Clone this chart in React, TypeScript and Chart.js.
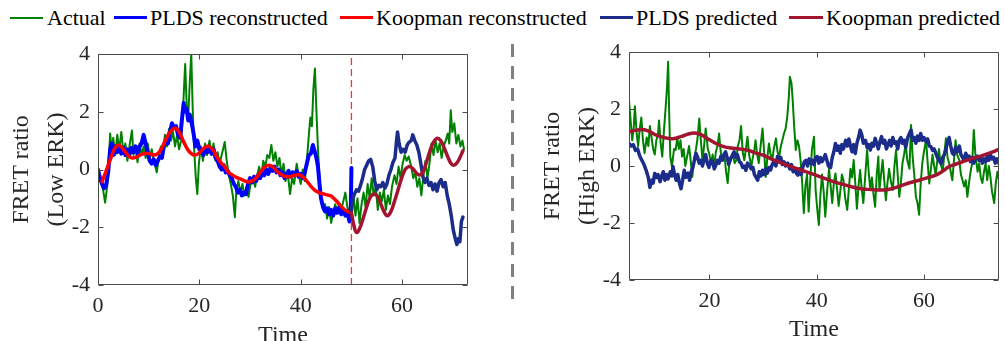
import React, { useEffect, useRef } from "react";
import { Chart, registerables } from "chart.js";

Chart.register(...registerables);

const FONT = "'Liberation Serif', 'Times New Roman', Times, serif";
const TEXT = "#262626";

const C_ACTUAL = "#008000";
const C_PLDS_REC = "#0000ff";
const C_KOOP_REC = "#ff0000";
const C_PLDS_PRED = "#1b2c8a";
const C_KOOP_PRED = "#a2142f";
const C_SPLIT = "#ff3030";

// ---------- Left panel (Low ERK) ----------
const lowActualT = [0, 0.5, 1.0, 1.4, 1.8, 2.1, 2.4, 2.7, 3.0, 3.4, 3.8, 4.2, 4.6, 5.0, 5.4, 5.8, 6.2, 6.7, 7.0, 7.4, 7.8, 8.2, 8.6, 9.0, 9.4, 9.8, 10.2, 10.6, 11.0, 11.6, 12.0, 12.4, 12.8, 13.2, 13.6, 14.0, 14.4, 14.8, 15.2, 15.6, 16.0, 16.4, 16.8, 17.2, 17.5, 17.8, 18.1, 18.4, 18.7, 19.0, 19.3, 19.6, 19.9, 20.3, 20.7, 21.1, 21.5, 22.0, 22.4, 22.8, 23.2, 23.6, 24.0, 24.4, 25.0, 25.4, 25.8, 26.2, 26.6, 27.0, 27.3, 27.7, 28.1, 28.5, 28.9, 29.3, 29.7, 30.1, 30.6, 31.0, 31.4, 31.8, 32.2, 32.6, 33.0, 33.4, 33.8, 34.2, 34.6, 35.0, 35.4, 35.8, 36.2, 36.6, 37.0, 37.4, 37.9, 38.3, 38.7, 39.2, 39.6, 40.0, 40.4, 40.8, 41.2, 41.6, 41.9, 42.2, 42.5, 42.8, 43.1, 43.4, 43.7, 44.0, 44.4, 44.8, 45.2, 45.6, 46.0, 46.4, 46.8, 47.2, 47.6, 48.0, 48.4, 48.8, 49.2, 49.6, 50.0, 50.4, 50.8, 51.2, 51.6, 52.0, 52.4, 52.8, 53.2, 53.6, 54.0, 54.4, 54.8, 55.2, 55.6, 56.0, 56.4, 56.8, 57.2, 57.6, 58.0, 58.5, 58.9, 59.3, 59.7, 60.1, 60.5, 60.9, 61.3, 61.8, 62.2, 62.6, 63.0, 63.4, 63.8, 64.2, 64.6, 65.0, 65.4, 65.8, 66.2, 66.6, 67.0, 67.4, 67.8, 68.2, 68.6, 69.0, 69.3, 69.6, 69.9, 70.3, 70.7, 71.1, 71.5, 71.9, 72.2];
const lowActualV = [0.0, -0.4, -0.7, -1.15, -0.6, 0.2, 1.25, 0.6, 1.1, 0.5, 1.2, 0.7, 1.3, 0.6, 0.9, 0.3, 0.8, 1.35, 0.5, 0.8, 0.25, 0.9, 0.5, 0.8, 0.4, 0.9, 0.4, 0.7, 0.3, -0.1, 0.4, 0.8, 0.5, 1.2, 0.8, 1.4, 1.0, 1.3, 0.8, 1.2, 0.7, 1.0, 2.2, 3.65, 2.2, 1.8, 3.0, 4.0, 2.0, 0.6, -0.3, -0.85, 0.2, 0.8, 0.3, 0.9, 0.5, 1.0, 0.5, 0.9, 0.3, 0.6, 0.2, 0.5, 0.95, 0.3, -0.2, -0.5, -0.9, -1.65, -0.7, -0.4, -0.8, -0.5, -0.9, -0.6, -0.95, -0.5, -0.3, -0.6, -0.2, 0.1, -0.3, 0.3, 0.1, 0.5, 0.4, 0.85, 0.3, 0.6, 0.1, 0.4, -0.2, 0.2, -0.4, -0.1, -0.85, -0.3, -0.5, 0.2, -0.2, -0.5, 0.0, -0.4, 0.3, 1.2, 1.8, 1.5, 2.8, 3.5, 2.0, 0.7, -0.3, -1.05, -1.4, -1.2, -1.7, -1.3, -1.85, -1.5, -1.2, -1.45, -1.2, -1.4, -1.1, -0.8, -1.3, -1.5, -1.4, -0.9, -1.6, -1.0, -1.85, -1.2, -0.8, -1.3, -0.5, -1.0, -0.3, -0.9, -0.6, -1.4, -0.8, -1.1, -0.7, -1.4, -0.9, -1.2, -0.6, -0.2, -0.5, 0.1, -0.3, 0.2, 0.5, 0.3, 0.45, 0.1, -0.3, -0.1, -0.6, -0.3, -0.9, -0.2, 0.3, -0.3, 0.2, 0.9, 0.5, 1.0, 0.6, 0.9, 0.4, 0.8, 1.0, 1.25, 0.9, 2.05, 1.3, 1.6, 0.9, 1.2, 0.8, 1.0, 0.7];

const lowPldsRecT = [0.0, 0.4, 0.8, 1.2, 1.6, 2.0, 2.4, 2.7, 3.0, 3.4, 3.8, 4.2, 4.6, 5.0, 5.4, 5.8, 6.2, 6.6, 7.0, 7.4, 7.8, 8.2, 8.6, 9.0, 9.4, 9.8, 10.2, 10.6, 11.0, 11.4, 11.8, 12.2, 12.6, 13.0, 13.4, 13.8, 14.2, 14.6, 15.0, 15.4, 15.8, 16.2, 16.6, 16.9, 17.2, 17.5, 17.8, 18.1, 18.5, 18.9, 19.2, 19.6, 20.0, 20.4, 20.8, 21.2, 21.6, 22.0, 22.4, 22.8, 23.2, 23.6, 24.0, 24.4, 24.8, 25.2, 25.6, 26.0, 26.4, 26.8, 27.2, 27.6, 28.0, 28.4, 28.8, 29.2, 29.6, 30.0, 30.4, 30.8, 31.2, 31.6, 32.0, 32.4, 32.8, 33.2, 33.6, 34.0, 34.4, 34.8, 35.2, 35.6, 36.0, 36.4, 36.8, 37.2, 37.6, 38.0, 38.4, 38.8, 39.2, 39.6, 40.0, 40.4, 40.8, 41.2, 41.6, 42.0, 42.4, 42.8, 43.1, 43.4, 43.7, 44.0, 44.4, 44.8, 45.2, 45.6, 46.0, 46.4, 46.8, 47.2, 47.6, 48.0, 48.4, 48.8, 49.2, 49.6, 49.85, 50.0];
const lowPldsRecV = [0.0, -0.3, -0.5, -0.65, -0.55, -0.1, 0.7, 0.9, 0.5, 0.8, 0.6, 0.8, 0.55, 0.75, 0.5, 0.7, 0.5, 0.75, 0.6, 0.8, 0.55, 0.8, 0.9, 1.2, 0.9, 0.6, 0.3, 0.2, 0.35, 0.15, 0.3, 0.45, 0.4, 0.8, 1.0, 0.9, 1.3, 1.6, 1.45, 1.5, 1.2, 1.1, 1.8, 2.3, 2.0, 2.1, 1.7, 1.9, 1.6, 1.2, 0.8, 1.0, 0.7, 0.65, 0.5, 0.7, 0.6, 0.75, 0.55, 0.7, 0.4, 0.3, 0.1, 0.0, 0.15, -0.1, -0.05, -0.2, -0.3, -0.5, -0.6, -0.8, -0.7, -0.9, -0.8, -0.85, -0.5, -0.3, -0.45, -0.25, -0.4, -0.2, -0.3, -0.1, -0.2, 0.0, -0.15, 0.05, -0.05, 0.1, -0.1, 0.0, -0.2, -0.1, -0.3, -0.15, -0.05, -0.25, -0.1, -0.2, -0.05, -0.25, -0.15, -0.3, -0.1, 0.2, 0.5, 0.55, 0.85, 0.6, 0.4, 0.1, -0.5, -1.0, -1.3, -1.45, -1.35, -1.55, -1.4, -1.6, -1.35, -1.5, -1.3, -1.55, -1.4, -1.6, -1.45, -1.8, -1.65, 0.05];

const lowKoopRecT = [0.8, 1.5, 2.4, 3.2, 3.9, 4.6, 5.5, 6.3, 7.0, 7.8, 8.6, 9.4, 10.2, 11.0, 11.8, 12.6, 13.4, 14.3, 15.2, 16.0, 16.8, 17.6, 18.4, 19.2, 20.0, 20.9, 21.8, 22.6, 23.4, 24.2, 25.0, 25.8, 26.6, 27.4, 28.2, 29.0, 29.8, 30.6, 31.4, 32.2, 33.0, 33.8, 34.6, 35.4, 36.2, 37.0, 37.9, 38.8, 39.6, 40.4, 41.2, 42.0, 42.8, 43.6, 44.4, 45.2, 46.0, 46.8, 47.6, 48.4, 49.2, 50.0];
const lowKoopRecV = [-0.42, -0.1, 0.33, 0.7, 0.85, 0.78, 0.58, 0.43, 0.4, 0.45, 0.52, 0.56, 0.55, 0.5, 0.55, 0.75, 1.05, 1.32, 1.43, 1.3, 1.0, 0.72, 0.55, 0.5, 0.58, 0.74, 0.81, 0.7, 0.45, 0.25, 0.1, -0.1, -0.2, -0.28, -0.33, -0.4, -0.43, -0.38, -0.25, -0.05, 0.1, 0.15, 0.08, -0.08, -0.18, -0.24, -0.25, -0.2, -0.18, -0.25, -0.4, -0.58, -0.72, -0.8, -0.84, -0.88, -0.92, -1.05, -1.2, -1.35, -1.45, -1.5];

const lowPldsPredT = [50.0, 50.3, 50.6, 51.0, 51.4, 51.8, 52.2, 52.6, 53.0, 53.4, 53.8, 54.2, 54.6, 55.0, 55.4, 55.8, 56.2, 56.6, 57.0, 57.4, 57.8, 58.2, 58.6, 58.9, 59.1, 59.4, 59.8, 60.2, 60.6, 61.0, 61.4, 61.8, 62.1, 62.5, 62.9, 63.3, 63.7, 64.1, 64.5, 64.9, 65.3, 65.7, 66.1, 66.5, 66.9, 67.3, 67.7, 68.1, 68.5, 68.9, 69.3, 69.7, 70.1, 70.5, 70.8, 71.1, 71.4, 71.7, 72.0];
const lowPldsPredV = [-1.45, -1.0, -0.85, -0.7, -0.75, -0.55, -0.3, 0.0, 0.15, 0.3, 0.35, 0.1, -0.4, -0.7, -0.55, -0.6, -0.45, -0.65, -0.5, -0.2, 0.0, 0.25, 0.4, 1.0, 1.3, 0.9, 0.6, 0.7, 0.6, 0.85, 0.95, 1.0, 1.2, 1.0, 0.85, 0.6, 0.2, -0.25, -0.45, -0.3, -0.55, -0.45, -0.7, -0.5, -0.75, -0.45, -0.35, -0.6, -0.45, -0.9, -1.2, -1.6, -2.1, -2.4, -2.6, -2.4, -2.5, -1.8, -1.65];

const lowKoopPredT = [50.0, 50.5, 51.0, 51.6, 52.3, 53.0, 53.7, 54.4, 55.0, 55.7, 56.4, 57.1, 57.8, 58.5, 59.2, 59.9, 60.6, 61.3, 62.0, 62.7, 63.4, 64.1, 64.8, 65.5, 66.2, 66.9, 67.6, 68.3, 69.0, 69.7, 70.3, 70.9, 71.5, 72.0];
const lowKoopPredV = [-1.5, -1.95, -2.18, -2.05, -1.7, -1.3, -0.97, -0.85, -0.9, -1.15, -1.45, -1.6, -1.45, -1.1, -0.7, -0.3, 0.0, 0.1, 0.05, -0.1, -0.19, -0.1, 0.25, 0.65, 0.95, 1.08, 1.0, 0.75, 0.44, 0.2, 0.15, 0.25, 0.45, 0.65];

const splitT = [50, 50];
const splitV = [-4, 4];

// ---------- Right panel (High ERK) ----------
const highActualT = [5.0, 5.3, 5.6, 5.9, 6.1, 6.4, 6.7, 7.0, 7.3, 7.6, 7.9, 8.3, 8.6, 8.9, 9.2, 9.5, 9.8, 10.1, 10.4, 10.6, 10.9, 11.2, 11.5, 11.8, 12.1, 12.3, 12.5, 12.7, 13.0, 13.4, 13.7, 14.0, 14.3, 14.6, 14.9, 15.2, 15.5, 15.9, 16.2, 16.5, 16.8, 17.2, 17.5, 17.8, 18.1, 18.4, 18.7, 19.0, 19.3, 19.7, 20.0, 20.3, 20.6, 20.9, 21.2, 21.5, 21.8, 22.1, 22.4, 22.8, 23.1, 23.4, 23.7, 24.0, 24.3, 24.7, 25.0, 25.3, 25.6, 25.9, 26.2, 26.5, 26.8, 27.1, 27.4, 27.8, 28.1, 28.4, 28.6, 28.9, 29.2, 29.6, 29.9, 30.2, 30.5, 30.8, 31.1, 31.4, 31.7, 32.0, 32.4, 32.7, 33.0, 33.3, 33.6, 33.9, 34.2, 34.5, 34.8, 35.0, 35.3, 35.5, 35.8, 36.1, 36.4, 36.7, 37.0, 37.3, 37.6, 37.9, 38.2, 38.5, 38.8, 39.1, 39.5, 39.8, 40.1, 40.4, 40.7, 41.0, 41.3, 41.6, 41.9, 42.3, 42.6, 42.9, 43.2, 43.5, 43.8, 44.1, 44.4, 44.7, 45.0, 45.3, 45.7, 46.0, 46.3, 46.6, 46.9, 47.2, 47.5, 47.8, 48.1, 48.4, 48.7, 49.0, 49.4, 49.7, 50.0, 50.3, 50.6, 50.9, 51.2, 51.5, 51.7, 52.0, 52.3, 52.6, 52.9, 53.2, 53.5, 53.8, 54.2, 54.5, 54.8, 55.1, 55.4, 55.7, 56.0, 56.3, 56.6, 56.9, 57.3, 57.6, 57.9, 58.2, 58.5, 58.8, 59.1, 59.4, 59.7, 60.0, 60.4, 60.7, 61.0, 61.3, 61.6, 61.9, 62.2, 62.5, 62.8, 63.1, 63.5, 63.8, 64.1, 64.4, 64.7, 65.0, 65.3, 65.6, 65.9, 66.2, 66.6, 66.9, 67.2, 67.5, 67.8, 68.1, 68.4, 68.7, 69.0, 69.3, 69.6, 70.0, 70.3, 70.6, 70.9, 71.2, 71.5, 71.8, 72.1, 72.4, 72.7, 73.1, 73.4, 73.7, 74.0];
const highActualV = [2.3, 1.6, 0.9, 1.4, 2.1, 1.2, 0.7, 1.3, 1.7, 0.9, 0.45, 1.0, 0.7, 1.4, 1.0, 0.6, 0.4, 0.9, 1.1, 1.6, 0.8, 0.33, 1.2, 1.96, 2.8, 3.66, 1.8, 0.33, -0.02, 0.6, 0.56, 1.0, 0.6, 0.9, 0.33, 0.6, 0.0, 0.4, 0.7, 0.2, -0.38, 0.3, 0.6, 1.0, 1.67, 0.9, 0.21, 0.7, 1.32, 0.6, 0.4, 0.09, 0.4, -0.02, 0.5, 0.7, 1.14, 0.5, 0.2, 0.4, -0.2, -0.6, 0.1, 0.2, 0.44, 0.1, 0.2, 0.7, 0.9, 1.4, 0.5, 0.2, 0.6, 1.03, 0.4, -0.02, 0.3, 0.6, 0.9, 0.4, 0.1, 0.8, 1.32, 0.5, -0.38, 0.3, 0.79, 0.4, 0.2, 0.6, 0.97, 0.5, 0.3, 0.68, 0.9, 1.14, 1.3, 1.7, 2.4, 3.13, 2.9, 2.4, 1.4, 0.56, 0.9, 0.7, 0.2, -0.6, -1.65, -0.7, -0.3, -1.6, -0.5, 0.56, 1.03, -0.84, -1.5, -2.07, -1.0, -0.3, -0.9, -1.78, -1.0, -0.1, -0.7, -1.3, -0.6, -0.26, -0.8, -1.4, -0.9, -0.3, -0.5, -1.1, -1.54, -0.8, -0.1, -0.4, 0.21, -0.6, -1.5, -0.7, -0.14, -0.8, -1.3, -0.5, 0.56, -0.2, -0.84, -0.4, -1.0, -1.43, -0.3, 0.33, -0.84, -0.3, 0.21, -0.5, -1.2, -0.6, -0.1, -0.5, -0.84, 0.0, 0.56, -0.3, -1.08, -0.6, 0.1, 0.4, 0.79, 0.2, -0.1, 1.44, 0.3, -0.3, -1.08, -1.3, -1.71, -0.6, 0.1, 0.5, 0.91, 0.1, -0.61, -0.1, 0.4, 0.0, -0.3, 0.2, 0.6, 0.1, -0.2, 0.4, 0.97, 0.3, 0.1, -0.2, -0.5, 0.2, 0.9, 0.4, 0.2, -0.3, -0.5, -0.72, -0.5, -1.08, -0.6, -0.2, 0.1, 1.26, 0.4, -0.2, 0.1, -0.4, -0.6, -0.2, 0.1, -0.5, 0.0, -0.38, -0.9, -1.3, -0.6, -0.2, -0.5];

const highPldsPredT = [5.0, 5.4, 5.8, 6.2, 6.6, 7.0, 7.4, 7.8, 8.2, 8.6, 8.9, 9.2, 9.5, 9.8, 10.1, 10.4, 10.8, 11.1, 11.4, 11.7, 12.0, 12.3, 12.7, 13.0, 13.2, 13.5, 13.8, 14.1, 14.4, 14.7, 15.0, 15.3, 15.6, 16.0, 16.3, 16.6, 16.9, 17.2, 17.5, 17.8, 18.1, 18.4, 18.7, 19.0, 19.3, 19.6, 19.9, 20.3, 20.6, 20.9, 21.2, 21.5, 21.8, 22.1, 22.4, 22.7, 23.0, 23.3, 23.6, 23.9, 24.2, 24.6, 24.9, 25.2, 25.6, 25.9, 26.2, 26.5, 26.8, 27.1, 27.5, 27.8, 28.1, 28.4, 28.7, 29.0, 29.3, 29.6, 29.9, 30.2, 30.5, 30.8, 31.1, 31.4, 31.7, 32.0, 32.4, 32.7, 33.0, 33.3, 33.6, 33.9, 34.2, 34.6, 35.0, 35.3, 35.6, 35.9, 36.2, 36.5, 36.8, 37.1, 37.4, 37.7, 38.0, 38.3, 38.6, 38.9, 39.2, 39.5, 39.8, 40.1, 40.4, 40.7, 41.0, 41.3, 41.6, 41.9, 42.2, 42.6, 42.9, 43.2, 43.5, 43.8, 44.1, 44.4, 44.7, 45.0, 45.4, 45.7, 46.0, 46.3, 46.6, 46.9, 47.2, 47.5, 47.8, 48.1, 48.4, 48.7, 49.1, 49.4, 49.7, 50.0, 50.3, 50.6, 50.9, 51.2, 51.5, 51.8, 52.1, 52.4, 52.7, 53.0, 53.3, 53.6, 53.9, 54.2, 54.5, 54.8, 55.1, 55.4, 55.7, 56.0, 56.3, 56.6, 56.9, 57.2, 57.6, 57.9, 58.2, 58.5, 58.8, 59.1, 59.4, 59.7, 60.0, 60.4, 60.7, 61.0, 61.3, 61.6, 61.9, 62.2, 62.5, 62.8, 63.2, 63.5, 63.8, 64.1, 64.4, 64.7, 65.0, 65.3, 65.6, 65.9, 66.2, 66.6, 66.9, 67.2, 67.5, 67.8, 68.1, 68.4, 68.7, 69.0, 69.3, 69.6, 70.0, 70.3, 70.6, 70.9, 71.2, 71.5, 71.8, 72.1, 72.4, 72.7, 73.0, 73.3, 73.6, 74.0];
const highPldsPredV = [0.8, 0.7, 0.75, 0.55, 0.6, 0.35, 0.2, 0.05, -0.15, -0.4, -0.75, -0.5, -0.6, -0.26, -0.4, -0.3, -0.55, -0.35, -0.2, -0.5, -0.3, -0.45, -0.2, -0.35, -0.02, -0.3, -0.5, -0.3, -0.6, -0.8, -0.5, -0.15, -0.4, -0.25, -0.5, -0.2, -0.05, 0.2, 0.44, 0.3, 0.1, 0.2, 0.0, 0.25, 0.4, 0.1, -0.05, 0.2, 0.15, -0.1, 0.03, 0.2, 0.1, 0.33, 0.2, 0.4, 0.5, 0.3, 0.05, 0.25, 0.35, 0.5, 0.3, 0.4, 0.15, 0.1, -0.05, 0.0, -0.15, 0.1, 0.0, -0.1, -0.05, -0.3, -0.4, -0.5, -0.2, -0.35, -0.15, -0.3, -0.1, -0.25, -0.05, -0.14, 0.05, 0.15, 0.0, 0.33, 0.15, 0.3, 0.05, 0.15, 0.0, 0.1, -0.1, 0.05, -0.2, -0.1, -0.25, -0.32, -0.1, -0.3, -0.05, 0.15, 0.2, 0.0, 0.25, 0.1, 0.2, 0.05, 0.3, 0.33, 0.1, 0.3, 0.15, 0.25, 0.4, 0.2, 0.0, -0.05, 0.3, 0.5, 0.79, 0.55, 0.7, 0.45, 0.75, 0.6, 0.9, 0.7, 0.95, 0.7, 0.5, 0.75, 0.44, 0.8, 1.0, 1.26, 1.1, 0.8, 0.9, 0.65, 0.75, 0.56, 0.8, 0.7, 0.97, 0.8, 0.6, 0.85, 1.03, 0.8, 0.9, 0.6, 0.75, 0.9, 0.7, 1.0, 0.8, 0.85, 0.6, 0.9, 1.0, 0.8, 0.9, 0.65, 0.95, 1.1, 1.26, 0.9, 1.0, 0.8, 1.05, 0.9, 1.14, 0.9, 1.0, 0.85, 0.95, 0.7, 0.68, 0.55, 0.6, 0.45, 0.3, 0.2, 0.09, 0.3, 0.4, 0.6, 0.85, 1.0, 0.7, 0.45, 0.4, 0.65, 0.5, 0.7, 0.4, 0.3, 0.21, 0.45, 0.3, 0.35, 0.15, 0.3, 0.1, 0.25, 0.35, 0.2, 0.3, 0.1, 0.25, 0.15, 0.35, 0.2, 0.4, 0.25, 0.3, 0.1, 0.25, 0.09];

const highKoopPredT = [5.0, 6.2, 7.6, 8.9, 10.1, 11.5, 13.2, 14.8, 16.0, 17.2, 18.4, 20.0, 21.3, 22.5, 24.0, 25.6, 27.0, 28.4, 30.0, 31.4, 33.3, 35.2, 37.0, 38.9, 40.7, 42.6, 44.4, 46.3, 48.0, 49.4, 51.0, 52.5, 54.0, 56.0, 57.5, 59.1, 60.7, 62.2, 63.5, 64.7, 66.0, 67.2, 68.8, 70.3, 72.2, 74.0];
const highKoopPredV = [1.2, 1.25, 1.28, 1.2, 1.08, 1.0, 0.96, 1.04, 1.12, 1.16, 1.1, 0.92, 0.78, 0.69, 0.63, 0.6, 0.56, 0.47, 0.38, 0.26, 0.12, -0.02, -0.14, -0.26, -0.38, -0.51, -0.62, -0.72, -0.79, -0.82, -0.84, -0.84, -0.8, -0.67, -0.58, -0.5, -0.41, -0.32, -0.18, -0.02, 0.07, 0.15, 0.25, 0.33, 0.45, 0.58];

const xTicksStep = 20;
const yTicks = { min: -4, max: 4, step: 2 };

const pts = (t: number[], v: number[]) => t.map((x, i) => ({ x, y: v[i] }));

const boxPlugin = {
  id: "matlabBox",
  afterDraw(chart: any) {
    const { ctx, chartArea: a, scales } = chart;
    const L = Math.round(a.left) + 0.5;
    const R = Math.round(a.right) - 0.5;
    const T = Math.round(a.top) + 0.5;
    const B = Math.round(a.bottom) - 0.5;
    ctx.save();
    ctx.strokeStyle = "#4a4a4a";
    ctx.lineWidth = 1;
    ctx.beginPath();
    ctx.rect(L, T, R - L, B - T);
    const tl = 5;
    scales.x.ticks.forEach((tk: any) => {
      const px = Math.round(scales.x.getPixelForValue(tk.value)) + 0.5;
      ctx.moveTo(px, B);
      ctx.lineTo(px, B - tl);
      ctx.moveTo(px, T);
      ctx.lineTo(px, T + tl);
    });
    scales.y.ticks.forEach((tk: any) => {
      const py = Math.round(scales.y.getPixelForValue(tk.value)) + 0.5;
      ctx.moveTo(L, py);
      ctx.lineTo(L + tl, py);
      ctx.moveTo(R, py);
      ctx.lineTo(R - tl, py);
    });
    ctx.stroke();
    ctx.restore();
  },
};

type Geo = {
  xMin: number;
  xMax: number;
  yWidth: number;
  xHeight: number;
  padTop: number;
  padRight: number;
  titlePad: number;
  yTitle: string[];
};

function makeConfig(datasets: any[], g: Geo): any {
  return {
    type: "line",
    data: { datasets },
    plugins: [boxPlugin],
    options: {
      responsive: false,
      animation: false,
      events: [],
      layout: { padding: { top: g.padTop, right: g.padRight, left: 0, bottom: 0 } },
      elements: { point: { radius: 0 } },
      plugins: { legend: { display: false }, tooltip: { enabled: false } },
      scales: {
        x: {
          type: "linear",
          min: g.xMin,
          max: g.xMax,
          grid: { display: false, drawTicks: false },
          border: { display: false },
          ticks: {
            stepSize: xTicksStep,
            includeBounds: false,
            padding: 8,
            color: TEXT,
            font: { family: FONT, size: 22 },
            maxRotation: 0,
          },
          title: {
            display: true,
            text: "Time",
            color: TEXT,
            font: { family: FONT, size: 24, lineHeight: 1.2 },
            padding: 0,
          },
          afterFit(s: any) {
            s.height = g.xHeight;
          },
        },
        y: {
          type: "linear",
          min: yTicks.min,
          max: yTicks.max,
          grid: { display: false, drawTicks: false },
          border: { display: false },
          ticks: {
            stepSize: yTicks.step,
            padding: 8,
            color: TEXT,
            font: { family: FONT, size: 22 },
          },
          title: {
            display: true,
            text: g.yTitle,
            color: TEXT,
            font: { family: FONT, size: 24, lineHeight: 1.46 },
            padding: { top: g.titlePad, bottom: 0 },
          },
          afterFit(s: any) {
            s.width = g.yWidth;
          },
        },
      },
    },
  };
}

const lineDs = (label: string, t: number[], v: number[], color: string, width: number, order: number, smooth = false) => ({
  label,
  data: pts(t, v),
  borderColor: color,
  backgroundColor: color,
  borderWidth: width,
  tension: smooth ? 0.4 : 0,
  borderJoinStyle: "round",
  borderCapStyle: "round",
  pointRadius: 0,
  fill: false,
  order,
});

const legendItems = [
  { label: "Actual", color: C_ACTUAL, lx: 10, lw: 33, th: 2, tx: 47 },
  { label: "PLDS reconstructed", color: C_PLDS_REC, lx: 114, lw: 33, th: 3, tx: 150 },
  { label: "Koopman reconstructed", color: C_KOOP_REC, lx: 340, lw: 33, th: 3, tx: 376 },
  { label: "PLDS predicted", color: C_PLDS_PRED, lx: 600, lw: 33, th: 3, tx: 636 },
  { label: "Koopman predicted", color: C_KOOP_PRED, lx: 789, lw: 34, th: 3, tx: 826 },
];

export default function App() {
  const leftRef = useRef<HTMLCanvasElement>(null);
  const rightRef = useRef<HTMLCanvasElement>(null);

  useEffect(() => {
    const left = new Chart(
      leftRef.current as HTMLCanvasElement,
      makeConfig(
        [
          {
            label: "split",
            data: pts(splitT, splitV),
            borderColor: C_SPLIT,
            backgroundColor: C_SPLIT,
            borderWidth: 1.3,
            borderDash: [7, 4],
            pointRadius: 0,
            fill: false,
            order: 10,
          },
          lineDs("Actual", lowActualT, lowActualV, C_ACTUAL, 2, 6),
          lineDs("PLDS reconstructed", lowPldsRecT, lowPldsRecV, C_PLDS_REC, 4, 5),
          lineDs("Koopman reconstructed", lowKoopRecT, lowKoopRecV, C_KOOP_REC, 3.5, 4, true),
          lineDs("PLDS predicted", lowPldsPredT, lowPldsPredV, C_PLDS_PRED, 3.5, 3),
          lineDs("Koopman predicted", lowKoopPredT, lowKoopPredV, C_KOOP_PRED, 3.5, 2, true),
        ],
        { xMin: 0, xMax: 73, yWidth: 98, xHeight: 65, padTop: 24, padRight: 22, titlePad: 4.5, yTitle: ["FRET ratio", "(Low ERK)"] }
      )
    );
    const right = new Chart(
      rightRef.current as HTMLCanvasElement,
      makeConfig(
        [
          lineDs("Actual", highActualT, highActualV, C_ACTUAL, 2, 6),
          lineDs("PLDS predicted", highPldsPredT, highPldsPredV, C_PLDS_PRED, 3.5, 3),
          lineDs("Koopman predicted", highKoopPredT, highKoopPredV, C_KOOP_PRED, 3.5, 2, true),
        ],
        { xMin: 5, xMax: 74, yWidth: 109, xHeight: 64, padTop: 22, padRight: 6, titlePad: 15, yTitle: ["FRET ratio", "(High ERK)"] }
      )
    );
    return () => {
      left.destroy();
      right.destroy();
    };
  }, []);

  return (
    <div
      style={{
        position: "absolute",
        left: 0,
        top: 0,
        width: 1005,
        height: 341,
        overflow: "hidden",
        background: "#ffffff",
        fontFamily: FONT,
      }}
    >
      {legendItems.map((it) => (
        <React.Fragment key={it.label}>
          <div
            style={{
              position: "absolute",
              left: it.lx,
              top: 17.5 - it.th / 2,
              width: it.lw,
              height: it.th,
              background: it.color,
            }}
          />
          <span
            style={{
              position: "absolute",
              left: it.tx,
              top: 7,
              fontSize: 22,
              lineHeight: "22px",
              whiteSpace: "nowrap",
              color: "#000",
              fontFamily: FONT,
            }}
          >
            {it.label}
          </span>
        </React.Fragment>
      ))}
      <div
        style={{
          position: "absolute",
          left: 511,
          top: 44,
          width: 3,
          height: 258,
          background: "repeating-linear-gradient(to bottom, #808080 0px, #808080 13px, transparent 13px, transparent 22px)",
        }}
      />
      <canvas
        ref={leftRef}
        width={490}
        height={320}
        style={{ position: "absolute", left: 0, top: 30, width: 490, height: 320 }}
      />
      <canvas
        ref={rightRef}
        width={485}
        height={314}
        style={{ position: "absolute", left: 520, top: 30, width: 485, height: 314 }}
      />
    </div>
  );
}
